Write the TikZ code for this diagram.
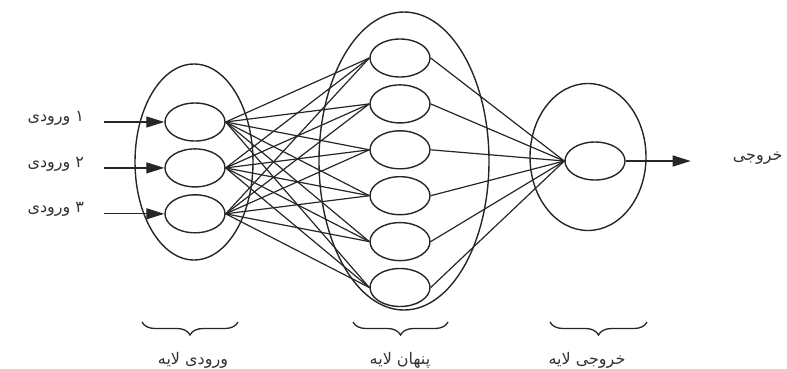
\documentclass[tikz,border=0pt]{standalone}
\usepackage{fontspec}
\newfontfamily\arabicfont[Script=Arabic]{DejaVu Sans}
\TeXXeTstate=1
\usetikzlibrary{arrows.meta, positioning, shapes.geometric, decorations.pathreplacing}

\begin{document}
\begin{tikzpicture}[
    x=1pt, y=-1pt,
    node distance=6.5pt,
    neuron/.style={ellipse, draw=black!85, line width=1.4pt,
                   minimum width=60pt, minimum height=38pt, inner sep=0pt},
    layer/.style={ellipse, draw=black!85, line width=1.4pt, inner sep=0pt},
    link/.style={black!85, line width=1.2pt},
    arr/.style={-{Triangle[length=18pt, width=11pt]}, line width=1.3pt, black!85},
    brc/.style={decorate, decoration={brace, amplitude=13pt, mirror},
                line width=1.3pt, black!85},
    lbl/.style={font=\arabicfont\fontsize{16}{19}\selectfont, text=black!80, inner sep=0pt},
]
\useasboundingbox (0,0) rectangle (787,368);

\node[layer, minimum width=118pt, minimum height=196pt] (inL)  at (194,162) {};
\node[layer, minimum width=170pt, minimum height=298pt] (hidL) at (404,161) {};
\node[layer, minimum width=116pt, minimum height=147pt] (outL) at (588,157) {};

\node[neuron] (i1) at (195,122) {};
\node[neuron, below=of i1] (i2) {};
\node[neuron, below=of i2] (i3) {};

\node[neuron] (h1) at (400,58) {};
\node[neuron, below=of h1] (h2) {};
\node[neuron, below=of h2] (h3) {};
\node[neuron, below=of h3] (h4) {};
\node[neuron, below=of h4] (h5) {};
\node[neuron, below=of h5] (h6) {};

\node[neuron] (o) at (595,161) {};

\foreach \i in {1,2,3}
  \foreach \h in {1,...,6}
    \draw[link] (i\i.east) -- (h\h.west);
\foreach \h in {1,...,6}
  \draw[link] (h\h.east) -- (o.west);

\coordinate[left=60pt of i1.west] (x1);
\coordinate[left=60pt of i2.west] (x2);
\coordinate[left=60pt of i3.west] (x3);
\draw[arr] (x1) -- (i1.west);
\draw[arr] (x2) -- (i2.west);
\draw[arr] (x3) -- (i3.west);

\node[lbl, left=20pt of x1, yshift=4pt] (t1) {\beginR ۱ ورودی\endR};
\node[lbl, left=20pt of x2, yshift=4pt] (t2) {\beginR ۲ ورودی\endR};
\node[lbl, left=20pt of x3, yshift=4pt] (t3) {\beginR ۳ ورودی\endR};

\coordinate[right=65pt of o.east] (y);
\draw[arr] (o.east) -- (y);
\node[lbl, right=42pt of y, yshift=3pt] (ty) {\beginR خروجی\endR};

\coordinate (bI1) at (142,322); \coordinate (bI2) at (238,322);
\coordinate (bH1) at (353,322); \coordinate (bH2) at (448,322);
\coordinate (bO1) at (550,322); \coordinate (bO2) at (647,322);
\draw[brc] (bI1) -- (bI2);
\draw[brc] (bH1) -- (bH2);
\draw[brc] (bO1) -- (bO2);

\node[lbl] (lIn)  at (193,360) {\beginR ورودی لایه\endR};
\node[lbl] (lHid) at (400,360) {\beginR پنهان لایه\endR};
\node[lbl] (lOut) at (587,360) {\beginR خروجی لایه\endR};
\end{tikzpicture}
\end{document}
